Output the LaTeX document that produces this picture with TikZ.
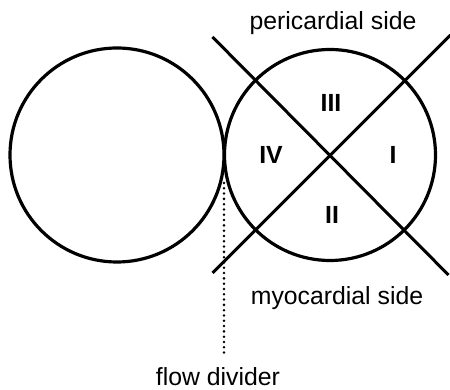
\documentclass[tikz,border=0pt]{standalone}
\usepackage{fontspec}
\setmainfont{Liberation Sans}
\usepackage{tikz}
\usetikzlibrary{positioning,calc}

\begin{document}
\begin{tikzpicture}[
  x=1pt,y=1pt,
  every node/.style={font=\fontsize{24.8}{28}\selectfont},
  vessel/.style={draw=black,line width=3.2pt,circle,inner sep=0pt},
  axisline/.style={draw=black,line width=3pt},
  quad/.style={font=\fontsize{24.8}{28}\selectfont\bfseries},
  side/.style={inner sep=2pt},
  divline/.style={line width=2.8pt,line cap=round,dash pattern=on 0pt off 5.3pt}
]
\useasboundingbox (0,0) rectangle (450,390);

% the two lumens
\node[vessel,minimum size=214pt] (left)  at (117,235) {};
\node[vessel,minimum size=211pt] (right) at (330,235) {};

% crossing lines through the right lumen
\coordinate (C)  at (330.5,235);
\coordinate (A1) at ($(C)+(-118,118)$);
\coordinate (A2) at ($(C)+(118,-120)$);
\coordinate (B1) at ($(C)+(-118,-118)$);
\coordinate (B2) at ($(C)+(120,120)$);
\draw[axisline] (A1) -- (A2);
\draw[axisline] (B1) -- (B2);

% quadrants
\node[quad] (q1) at (393,235) {I};
\node[quad] (q2) at (332,175) {II};
\node[quad] (q3) at (331,287) {III};
\node[quad] (q4) at (271,235) {IV};

% labels
\node[side] (peri) at (333,367) {pericardial side};
\node[side] (myo)  at (337,92)  {myocardial side};
\node[side] (flow) at (218,13)  {flow divider};

\coordinate (tip) at (224,207);
\draw[divline,shorten >=10pt] (tip) -- (flow.north -| tip);
\end{tikzpicture}
\end{document}
